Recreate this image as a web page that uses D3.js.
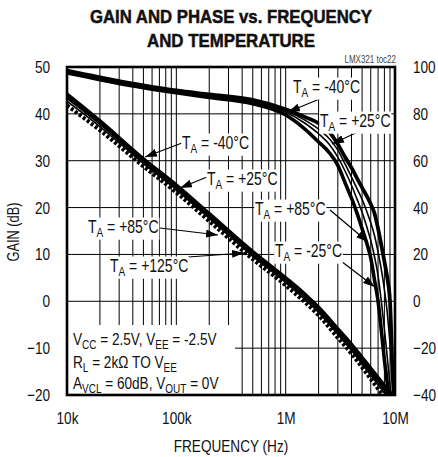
<!DOCTYPE html>
<html>
<head>
<meta charset="utf-8">
<script src="https://cdn.jsdelivr.net/npm/d3@7"></script>
<style>
  body { margin: 0; background: #fff; }
  svg text { font-family: "Liberation Sans", Arial, Helvetica, sans-serif; fill: #111; }
</style>
</head>
<body>
<div id="chart"></div>
<script>
// frequency grid shared by the gain curves (Hz)
const gainFreq = [1e4, 2e4, 5e4, 1e5, 2e5, 5e5, 1e6, 1.5e6, 2e6, 3e6, 4e6, 5e6, 6e6, 7e6, 8e6, 9e6, 1e7];
const gainM40  = [44.2, 38.5, 30.4, 24.8, 18.7, 10.6, 5.0, 1.5, -1.3, -5.9, -9.2, -12.0, -14.3, -16.3, -18.0, -19.4, -20.6];
const gainP25  = [43.5, 38.0, 29.9, 24.3, 18.2, 10.1, 4.5, 1.0, -1.8, -6.5, -9.9, -12.8, -15.1, -17.1, -18.8, -20.3, -21.5];
const gainP85  = [42.7, 37.3, 29.4, 23.8, 17.7, 9.6, 4.0, 0.4, -2.4, -7.1, -10.5, -13.4, -15.8, -17.8, -19.6, -21.2, -22.5];
const gainP125 = [41.8, 36.5, 28.8, 23.2, 17.1, 9.0, 3.4, -0.2, -3.0, -7.8, -11.2, -14.1, -16.6, -18.7, -20.6, -22.3, -24.0];

// frequency grid shared by the phase curves (Hz)
const phaseFreq = [1e4, 1.5e4, 2e4, 3e4, 5e4, 1e5, 2e5, 5e5, 1e6, 1.5e6, 2e6, 2.5e6, 3e6, 3.5e6, 4e6,
                   4.5e6, 5e6, 5.5e6, 6e6, 6.5e6, 7e6, 7.5e6, 8e6, 8.5e6, 9e6, 9.5e6, 1e7];
const phaseM40  = [97.5, 95.8, 94.6, 93.0, 91.2, 89.0, 87.0, 84.3, 79.5, 73.5, 68.0, 63.5, 58.0, 50.5, 44.0,
                   37.5, 31.0, 25.0, 18.5, 9.0, 0.0, -12.5, -25.0, -35.0, -46.0, -60, -70];
const phaseP125 = [98.0, 96.3, 95.1, 93.5, 91.7, 89.5, 87.6, 85.1, 80.8, 76.0, 71.5, 67.0, 61.5, 55.5, 49.5,
                   43.5, 38.0, 32.0, 26.0, 19.0, 11.0, 0.0, -12.0, -24.0, -36.0, -48.0, -60];
const phaseP85  = [98.2, 96.5, 95.3, 93.7, 91.9, 89.7, 87.9, 85.5, 81.4, 77.3, 73.5, 69.5, 64.5, 58.5, 53.0,
                   48.0, 43.5, 38.5, 33.5, 28.0, 21.0, 13.5, 5.0, -5.0, -18.0, -32.0, -48.0];
const phaseP25  = [98.5, 96.8, 95.6, 94.0, 92.2, 90.0, 88.3, 86.0, 82.0, 78.7, 76.0, 72.5, 67.0, 61.5, 57.0,
                   52.5, 48.5, 45.0, 41.5, 37.5, 31.0, 24.0, 17.0, 10.0, 0.0, -30.0, -50.0];

const gainTicks  = [-20, -10, 0, 10, 20, 30, 40, 50];
const phaseTicks = [-40, -20, 0, 20, 40, 60, 80, 100];
const freqTicks  = [1e4, 1e5, 1e6, 1e7];
const freqLabels = ['10k', '100k', '1M', '10M'];

const box = {left: 67, right: 395, top: 67, bottom: 395};
const squeeze = 0.8;   // narrow Helvetica look from a regular face

const svg = d3.select('#chart').append('svg')
  .attr('width', 438)
  .attr('height', 457);

const x = d3.scaleLog().domain([1e4, 1e7]).range([box.left, box.right]);
const yGain = d3.scaleLinear().domain([-20, 50]).range([box.bottom, box.top]);
const yPhase = d3.scaleLinear().domain([-40, 100]).range([box.bottom, box.top]);

// squeeze text horizontally around its anchor x
function condense(sel, k) {
  k = k || squeeze;
  sel.each(function() {
    const t = d3.select(this);
    const ax = +t.attr('x') || 0;
    const pre = t.attr('transform') ? t.attr('transform') + ' ' : '';
    t.attr('transform', pre + 'translate(' + ax + ',0) scale(' + k + ',1) translate(' + (-ax) + ',0)');
  });
  return sel;
}

// text built from [string, isSubscript] parts
function richText(parent, tx, ty, size, parts) {
  const t = parent.append('text').attr('x', tx).attr('y', ty).style('font-size', size + 'px');
  let shift = 0;
  parts.forEach(p => {
    const want = p[1] ? 4.5 : 0;
    t.append('tspan')
      .attr('dy', want - shift)
      .style('font-size', p[1] ? '12.5px' : null)
      .text(p[0]);
    shift = want;
  });
  return condense(t);
}

// arrow head
const defs = svg.append('defs');
defs.append('marker')
    .attr('id', 'head')
    .attr('markerUnits', 'userSpaceOnUse')
    .attr('markerWidth', 12).attr('markerHeight', 8)
    .attr('refX', 12).attr('refY', 4)
    .attr('orient', 'auto')
  .append('path')
    .attr('d', 'M0,0 L12,4 L0,8 Z')
    .attr('fill', '#000');

defs.append('clipPath').attr('id', 'plot')
  .append('rect')
    .attr('x', box.left).attr('y', box.top)
    .attr('width', box.right - box.left).attr('height', box.bottom - box.top);

// grid
const minor = [];
[1e4, 1e5, 1e6].forEach(dec => d3.range(1, 10).forEach(k => minor.push(dec * k)));
const grid = svg.append('g').attr('stroke', '#000').attr('stroke-width', 1);
grid.selectAll('line.v')
  .data(minor.filter(f => f > 1e4))
  .enter().append('line')
    .attr('x1', d => x(d)).attr('x2', d => x(d))
    .attr('y1', box.top).attr('y2', box.bottom);
grid.selectAll('line.h')
  .data(gainTicks.slice(1, -1))
  .enter().append('line')
    .attr('x1', box.left).attr('x2', box.right)
    .attr('y1', d => yGain(d)).attr('y2', d => yGain(d));

// curves
const curves = svg.append('g').attr('clip-path', 'url(#plot)').attr('fill', 'none').attr('stroke', '#000');
const lineGain = d3.line().x(d => x(d[0])).y(d => yGain(d[1])).curve(d3.curveMonotoneX);
const linePhase = d3.line().x(d => x(d[0])).y(d => yPhase(d[1])).curve(d3.curveMonotoneX);

const gainSets = [
  {v: gainP125, w: 4, dash: '3,2'},
  {v: gainP85, w: 1.6},
  {v: gainP25, w: 3.2},
  {v: gainM40, w: 3.6}
];
gainSets.forEach(s => {
  curves.append('path')
    .attr('d', lineGain(gainFreq.map((f, i) => [f, s.v[i]])))
    .attr('stroke-width', s.w)
    .attr('stroke-dasharray', s.dash || null);
});

const phaseSets = [
  {v: phaseM40, w: 3.6},
  {v: phaseP125, w: 1.6},
  {v: phaseP85, w: 1.6},
  {v: phaseP25, w: 3.8}
];
phaseSets.forEach(s => {
  curves.append('path')
    .attr('d', linePhase(phaseFreq.map((f, i) => [f, s.v[i]])))
    .attr('stroke-width', s.w);
});

// temperature labels with arrows
const labels = svg.append('g');
function tempLabel(tx, ty, temp, from, to) {
  labels.append('line')
    .attr('x1', from[0]).attr('y1', from[1])
    .attr('x2', to[0]).attr('y2', to[1])
    .attr('stroke', '#000').attr('stroke-width', 1.2)
    .attr('marker-end', 'url(#head)');
  const g = labels.append('g');
  const t = richText(g, tx, ty, 17.5, [['T'], ['A', 1], [' = ' + temp]]);
  const b = t.node().getBBox();
  g.insert('rect', 'text')
    .attr('transform', t.attr('transform'))
    .attr('x', b.x - 1).attr('y', b.y)
    .attr('width', b.width + 2).attr('height', b.height)
    .attr('fill', '#fff');
}
tempLabel(293, 93, '-40°C', [322, 98], [288, 112]);
tempLabel(320, 127, '+25°C', [360, 131], [332, 144]);
tempLabel(182, 149, '-40°C', [182, 143], [145, 157]);
tempLabel(207, 185, '+25°C', [207, 177], [180, 188]);
tempLabel(88, 233, '+85°C', [160, 228], [218, 235]);
tempLabel(110, 272, '+125°C', [188, 257], [244, 253]);
tempLabel(255, 215, '+85°C', [330, 210], [368, 242]);
tempLabel(275, 257, '-25°C', [337, 258], [375, 287]);

// conditions box
const cond = svg.append('g');
cond.append('rect')
  .attr('x', box.left + 1).attr('y', 325)
  .attr('width', 167).attr('height', box.bottom - 325)
  .attr('fill', '#fff');
richText(cond, 73, 345, 17, [['V'], ['CC', 1], [' = 2.5V, V'], ['EE', 1], [' = -2.5V']]);
richText(cond, 73, 368, 17, [['R'], ['L', 1], [' = 2kΩ TO V'], ['EE', 1]]);
richText(cond, 73, 389, 17, [['A'], ['VCL', 1], [' = 60dB, V'], ['OUT', 1], [' = 0V']]);

// frame
svg.append('rect')
  .attr('x', box.left).attr('y', box.top)
  .attr('width', box.right - box.left).attr('height', box.bottom - box.top)
  .attr('fill', 'none').attr('stroke', '#000').attr('stroke-width', 2.6);

// axes
const yAxisL = d3.axisLeft(yGain).tickValues(gainTicks).tickSize(0).tickPadding(17);
const yAxisR = d3.axisRight(yPhase).tickValues(phaseTicks).tickSize(0).tickPadding(18);
const xAxis = d3.axisBottom(x).tickValues(freqTicks).tickFormat((d, i) => freqLabels[i]).tickSize(0).tickPadding(17);

[svg.append('g').attr('transform', 'translate(' + box.left + ',0)').call(yAxisL),
 svg.append('g').attr('transform', 'translate(' + box.right + ',0)').call(yAxisR),
 svg.append('g').attr('transform', 'translate(0,' + box.bottom + ')').call(xAxis)]
  .forEach(a => {
    a.select('.domain').remove();
    a.attr('font-family', null).attr('font-size', null);
    condense(a.selectAll('text').style('font-size', '17px'));
  });

// titles
svg.append('text')
  .attr('x', 231).attr('y', 23)
  .attr('text-anchor', 'middle')
  .attr('textLength', 282).attr('lengthAdjust', 'spacingAndGlyphs')
  .style('font-size', '19px').style('font-weight', 'bold')
  .style('stroke', '#111').style('stroke-width', 0.5)
  .text('GAIN AND PHASE vs. FREQUENCY');
svg.append('text')
  .attr('x', 231).attr('y', 47)
  .attr('text-anchor', 'middle')
  .attr('textLength', 168).attr('lengthAdjust', 'spacingAndGlyphs')
  .style('font-size', '19px').style('font-weight', 'bold')
  .style('stroke', '#111').style('stroke-width', 0.5)
  .text('AND TEMPERATURE');

condense(svg.append('text')
  .attr('x', 396).attr('y', 63)
  .attr('text-anchor', 'end')
  .style('font-size', '10px').style('fill', '#444')
  .text('LMX321 toc22'));

condense(svg.append('text')
  .attr('x', 231).attr('y', 452)
  .attr('text-anchor', 'middle')
  .style('font-size', '17px')
  .text('FREQUENCY (Hz)'));

condense(svg.append('text')
  .attr('transform', 'rotate(-90)')
  .attr('x', -232).attr('y', 19)
  .attr('text-anchor', 'middle')
  .style('font-size', '16px')
  .text('GAIN (dB)'));
</script>
</body>
</html>
